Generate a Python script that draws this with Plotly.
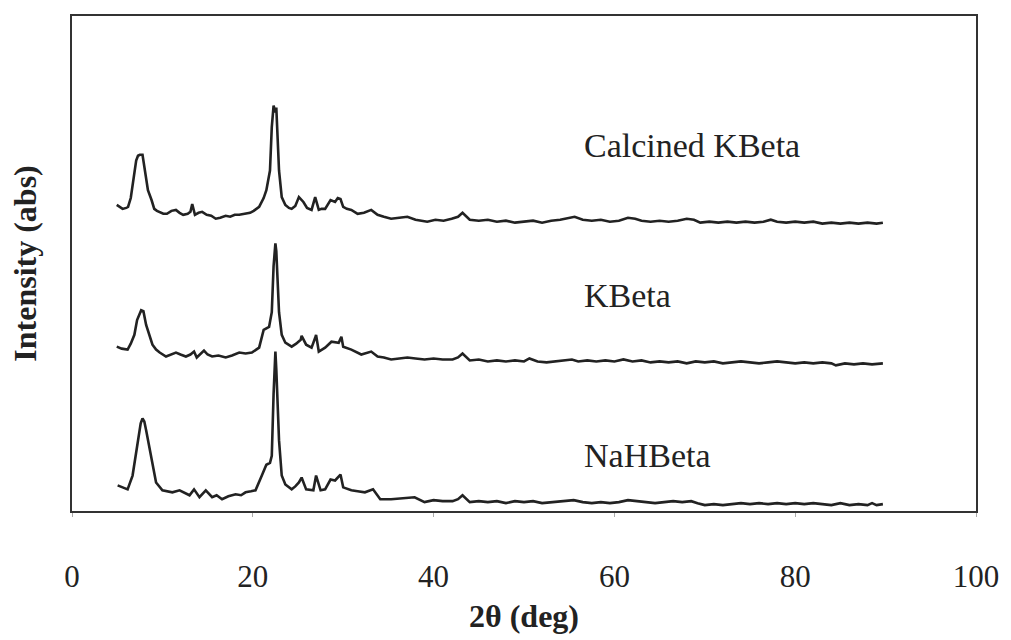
import plotly.graph_objects as go

# 2-theta positions (deg) and stacked intensities (a.u.) for each sample
two_theta_calcined = [4.95, 5.3, 5.6, 6.0, 6.2, 6.5, 6.7, 6.9, 7.1, 7.3, 7.5, 7.8, 8.1, 8.4, 8.8, 9.1, 9.4, 9.7,
                      10.1, 10.5, 11.0, 11.5, 11.9, 12.3, 12.8, 13.1, 13.3, 13.6, 14.0, 14.4, 14.9, 15.4, 15.9,
                      16.4, 17.0, 17.5, 18.0, 18.5, 19.2, 19.7, 20.1, 20.7, 21.2, 21.5, 21.9, 22.1, 22.3, 22.5,
                      22.6, 22.8, 22.9, 23.2, 23.6, 24.0, 24.3, 24.7, 25.1, 25.6, 26.0, 26.5, 26.9, 27.3, 27.6,
                      28.0, 28.6, 29.1, 29.4, 29.7, 30.0, 30.4, 30.9, 31.6, 32.3, 33.1, 33.8, 34.5, 35.3, 36.2,
                      37.1, 38.0, 39.3, 40.2, 41.1, 42.0, 42.7, 43.2, 44.0, 45.0, 46.0, 47.0, 48.0, 49.0, 50.0,
                      51.0, 52.0, 53.0, 54.0, 55.0, 55.6, 56.5, 57.5, 58.5, 59.5, 60.5, 61.5, 62.3, 63.0, 64.0,
                      65.0, 66.0, 67.0, 68.0, 68.8, 69.5, 70.5, 71.5, 72.5, 73.5, 74.5, 75.5, 76.5, 77.3, 78.0,
                      79.0, 80.0, 81.0, 82.0, 83.0, 84.0, 85.0, 86.0, 87.0, 88.0, 89.0, 89.7]
intensity_calcined = [311, 309, 307, 308, 309, 318, 332, 346, 356, 361, 362, 362, 346, 326, 316, 307, 305, 304,
                      302, 302, 305, 306, 303, 301, 302, 304, 312, 301, 303, 304, 301, 300, 297,
                      298, 300, 299, 301, 301, 302, 303, 305, 309, 318, 326, 346, 390, 412, 405,
                      410, 360, 346, 319, 311, 308, 307, 310, 319, 314, 308, 306, 319, 306, 307,
                      307, 316, 314, 318, 317, 309, 307, 306, 302, 303, 306, 301, 299, 297, 298,
                      299, 296, 294, 296, 295, 297, 299, 303, 296, 295, 296, 294, 295, 293, 294,
                      295, 293, 295, 296, 298, 299, 296, 295, 296, 294, 295, 298, 297, 295, 294,
                      295, 294, 295, 297, 296, 293, 294, 293, 294, 293, 294, 293, 294, 296, 294,
                      293, 294, 293, 294, 292, 293, 292, 293, 292, 293, 292, 293]

two_theta_kbeta = [4.95, 5.5, 6.15, 6.5, 6.9, 7.2, 7.65, 7.9, 8.2, 8.6, 8.9, 9.3, 9.7, 10.4, 11.0, 11.5, 12.0,
                   12.6, 13.1, 13.5, 13.8, 14.2, 14.6, 15.0, 15.5, 16.2, 17.0, 17.7, 18.5, 19.2, 19.9, 20.7,
                   21.2, 21.8, 22.1, 22.3, 22.5, 22.6, 22.7, 22.9, 23.2, 23.6, 24.3, 24.8, 25.3, 25.4, 25.9,
                   26.5, 26.9, 27.0, 27.3, 28.0, 28.7, 29.5, 29.8, 30.0, 30.9, 32.0, 33.1, 33.8, 34.5, 35.3,
                   36.2, 37.1, 38.0, 39.0, 40.0, 41.0, 42.1, 42.7, 43.2, 44.0, 45.0, 46.0, 47.0, 48.0, 49.0,
                   50.0, 50.6, 51.5, 52.5, 53.5, 54.5, 55.3, 56.0, 57.0, 58.0, 59.0, 60.0, 61.0, 62.0, 63.0,
                   64.0, 65.0, 66.0, 67.0, 68.0, 69.0, 70.0, 71.0, 72.0, 73.0, 74.0, 75.0, 76.0, 77.0, 78.0,
                   79.0, 80.0, 81.0, 82.0, 83.0, 84.0, 84.5, 85.5, 86.5, 87.5, 88.5, 89.7]
intensity_kbeta = [167, 165, 164, 170, 179, 194, 204, 203, 189, 176, 169, 164, 161, 157, 159, 161, 159,
                   157, 159, 162, 156, 160, 163, 159, 157, 158, 156, 158, 161, 160, 161, 166,
                   184, 187, 202, 249, 272, 264, 236, 202, 179, 171, 167, 170, 174, 178, 169,
                   166, 176, 179, 162, 166, 172, 171, 177, 167, 164, 159, 162, 157, 156, 154,
                   155, 156, 155, 154, 155, 154, 154, 156, 160, 153, 154, 152, 153, 152, 153,
                   152, 155, 152, 151, 152, 153, 154, 152, 153, 152, 153, 152, 154, 152, 153,
                   151, 152, 151, 152, 150, 152, 151, 152, 150, 151, 152, 151, 150, 151, 152,
                   151, 150, 151, 150, 151, 150, 148, 150, 149, 150, 149, 150]

two_theta_nahbeta = [5.05, 5.6, 6.15, 6.7, 7.25, 7.6, 7.8, 8.0, 8.2, 8.6, 8.8, 9.3, 10.0, 10.5, 11.1, 11.9,
                     12.5, 13.0, 13.5, 14.1, 14.8, 15.5, 16.0, 16.6, 17.3, 18.1, 18.7, 19.2, 19.8, 20.3, 21.0,
                     21.5, 21.9, 22.1, 22.3, 22.5, 22.6, 22.8, 22.9, 23.2, 23.6, 24.3, 24.7, 25.1, 25.4, 25.9,
                     26.7, 27.0, 27.5, 28.0, 28.6, 29.1, 29.7, 30.0, 30.9, 31.6, 32.4, 33.3, 34.1, 35.3, 36.5,
                     37.9, 39.0, 40.0, 41.0, 42.1, 42.7, 43.2, 44.0, 45.0, 46.0, 47.0, 48.0, 49.0, 50.0, 51.0,
                     52.0, 53.0, 54.0, 55.5, 56.5, 57.5, 58.5, 59.5, 60.5, 61.5, 62.5, 63.5, 64.5, 65.5, 66.5,
                     67.5, 68.5, 69.2, 70.0, 71.0, 72.0, 73.0, 74.0, 75.0, 76.0, 77.0, 78.0, 79.0, 80.0, 81.0,
                     82.0, 83.0, 84.0, 85.0, 86.0, 87.0, 88.0, 88.5, 89.0, 89.7]
intensity_nahbeta = [26, 24, 22, 36, 69, 89, 94, 91, 82, 64, 52, 29, 21, 20, 19, 21,
                     18, 16, 22, 14, 21, 14, 16, 12, 15, 17, 16, 19, 20, 21, 36,
                     47, 49, 56, 119, 162, 144, 99, 72, 36, 27, 22, 25, 29, 34, 22,
                     21, 36, 21, 22, 32, 31, 37, 24, 21, 20, 19, 22, 12, 12, 13,
                     14, 9, 11, 10, 10, 12, 16, 9, 10, 9, 10, 8, 10, 9, 10,
                     8, 9, 10, 11, 9, 8, 9, 8, 9, 11, 10, 9, 8, 9, 10,
                     9, 10, 8, 6, 7, 6, 7, 8, 7, 8, 7, 8, 7, 8, 7,
                     8, 7, 6, 8, 6, 7, 6, 8, 6, 7]

sample_names = ["Calcined KBeta", "KBeta", "NaHBeta"]
label_x = [56.4, 56.4, 56.4]
label_y = [371, 219, 56]

serif = "Liberation Serif, Times New Roman, serif"
line_color = "#222222"

fig = go.Figure()
for xs, ys, name in [(two_theta_calcined, intensity_calcined, sample_names[0]),
                     (two_theta_kbeta, intensity_kbeta, sample_names[1]),
                     (two_theta_nahbeta, intensity_nahbeta, sample_names[2])]:
    fig.add_trace(go.Scatter(x=xs, y=ys, mode="lines", name=name,
                             line=dict(color=line_color, width=2.6), showlegend=False))

for name, lx, ly in zip(sample_names, label_x, label_y):
    fig.add_annotation(x=lx, y=ly, text=name, showarrow=False, xanchor="left", yanchor="middle",
                       font=dict(family=serif, size=34, color="#222222"))

fig.update_layout(
    width=1011, height=640,
    margin=dict(l=72, r=29, t=16, b=121),
    paper_bgcolor="white", plot_bgcolor="white",
    font=dict(family=serif, color="#222222"),
)
fig.update_xaxes(
    range=[0, 100], tickvals=[0, 20, 40, 60, 80, 100],
    showgrid=False, zeroline=False,
    showline=True, mirror=True, linecolor="#333333", linewidth=2,
    ticks="outside", ticklen=4, tickcolor="#aaaaaa", tickwidth=1,
    tickfont=dict(family=serif, size=31, color="#222222"),
    ticklabelstandoff=33,
    title=dict(text="<b>2θ (deg)</b>", font=dict(family=serif, size=32, color="#222222"), standoff=11),
)
fig.update_yaxes(
    range=[0, 503], showticklabels=False, showgrid=False, zeroline=False,
    showline=True, mirror=True, linecolor="#333333", linewidth=2, ticks="",
    title=dict(text="<b>Intensity (abs)</b>", font=dict(family=serif, size=32, color="#222222"), standoff=24),
)

fig.write_html("out.html")
